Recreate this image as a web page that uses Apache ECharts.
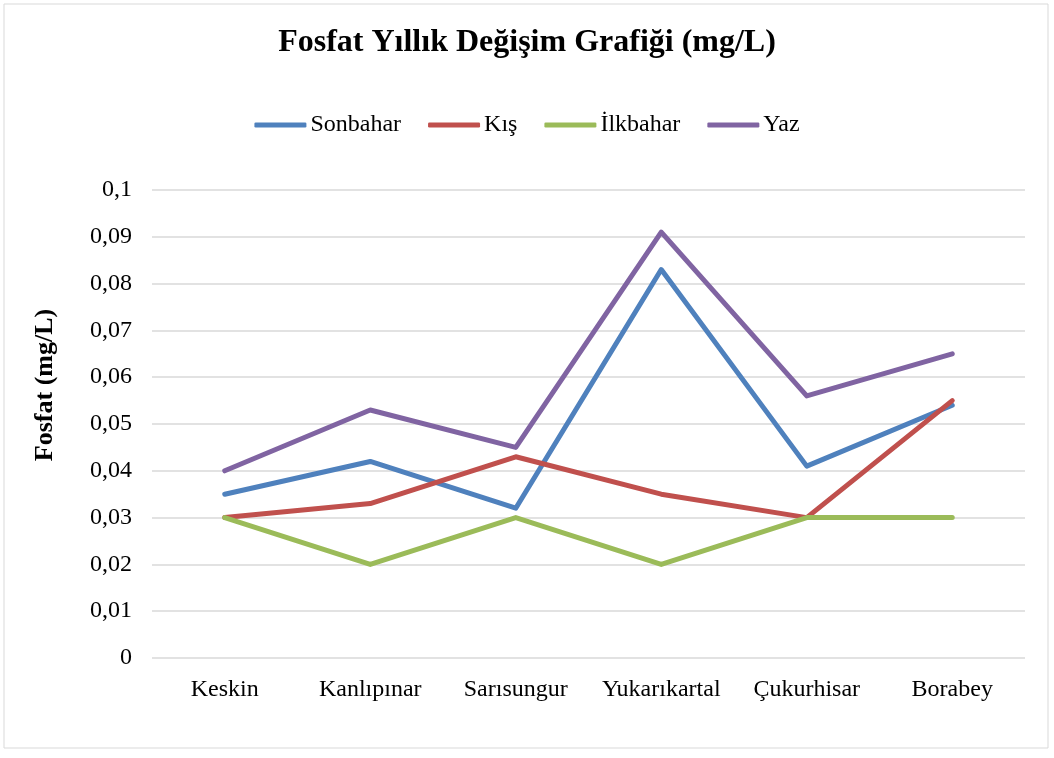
<!DOCTYPE html>
<html>
<head>
<meta charset="utf-8">
<script src="https://cdn.jsdelivr.net/npm/echarts@6/dist/echarts.min.js"></script>
<style>
  html, body { margin: 0; padding: 0; background: #fff; }
  #main { width: 1054px; height: 758px; }
</style>
</head>
<body>
<div id="main"></div>
<script>
var stations = ['Keskin', 'Kanlıpınar', 'Sarısungur', 'Yukarıkartal', 'Çukurhisar', 'Borabey'];
var sonbahar = [0.035, 0.042, 0.032, 0.083, 0.041, 0.054];
var kis = [0.030, 0.033, 0.043, 0.035, 0.030, 0.055];
var ilkbahar = [0.030, 0.020, 0.030, 0.020, 0.030, 0.030];
var yaz = [0.040, 0.053, 0.045, 0.091, 0.056, 0.065];

var font = 'Liberation Serif';

function line(name, data, color) {
  return {
    name: name,
    type: 'line',
    data: data,
    symbol: 'none',
    lineStyle: { width: 5, color: color, cap: 'round', join: 'round' },
    itemStyle: { color: color }
  };
}

var myChart = echarts.init(document.getElementById('main'));
option = {
  backgroundColor: '#fff',
  animation: false,
  title: {
    text: 'Fosfat Yıllık Değişim Grafiği (mg/L)',
    left: 'center',
    top: 22,
    textStyle: { fontFamily: font, fontSize: 32, fontWeight: 'bold', color: '#000' }
  },
  legend: {
    top: 108,
    left: 'center',
    itemWidth: 52,
    itemHeight: 5,
    itemGap: 27,
    icon: 'roundRect',
    textStyle: { fontFamily: font, fontSize: 24, color: '#000', padding: [0, 0, 0, -1] },
    data: ['Sonbahar', 'Kış', 'İlkbahar', 'Yaz']
  },
  grid: { left: 152, right: 29, top: 190, bottom: 100 },
  xAxis: {
    type: 'category',
    data: stations,
    boundaryGap: true,
    axisLine: { show: false },
    axisTick: { show: false },
    axisLabel: { fontFamily: font, fontSize: 24, color: '#000', margin: 20, interval: 0 }
  },
  yAxis: {
    type: 'value',
    min: 0,
    max: 0.1,
    interval: 0.01,
    name: 'Fosfat (mg/L)',
    nameLocation: 'middle',
    nameGap: 94,
    nameTextStyle: { fontFamily: font, fontSize: 26, fontWeight: 'bold', color: '#000', padding: [0, 0, 0, 78] },
    axisLine: { show: false },
    axisTick: { show: false },
    axisLabel: {
      fontFamily: font, fontSize: 24, color: '#000', margin: 20,
      formatter: function (v) { return String(Math.round(v * 100) / 100).replace('.', ','); }
    },
    splitLine: { lineStyle: { color: '#d9d9d9', width: 1.5 } }
  },
  graphic: [{
    type: 'rect',
    shape: { x: 4, y: 4, width: 1044, height: 744 },
    style: { fill: 'none', stroke: '#d9d9d9', lineWidth: 1 },
    silent: true
  }],
  series: [
    line('Sonbahar', sonbahar, '#4F81BD'),
    line('Kış', kis, '#C0504D'),
    line('İlkbahar', ilkbahar, '#9BBB59'),
    line('Yaz', yaz, '#8064A2')
  ]
};
myChart.setOption(option);
</script>
</body>
</html>
